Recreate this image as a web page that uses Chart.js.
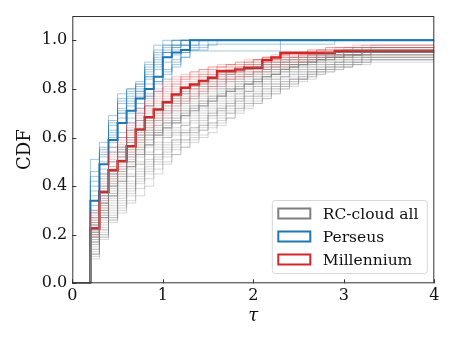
<!DOCTYPE html>
<html><head><meta charset="utf-8">
<script src="https://cdn.jsdelivr.net/npm/chart.js@4"></script>
<style>html,body{margin:0;padding:0;background:#fff}canvas{display:block}</style>
</head><body>
<canvas id="c" width="458" height="343"></canvas>
<script>
// ---- data ----
const tau = [0.2,0.3,0.4,0.5,0.6,0.7,0.8,0.9,1.0,1.1,1.2,1.3,1.4,1.5,1.6,1.7,1.8,1.9,2.0,2.1,2.2,2.3,2.4,2.5,2.6,2.7,2.8,2.9,3.0,3.1,3.2,3.3];
const xTicks = [0,1,2,3,4];
const yTicks = [0,0.2,0.4,0.6,0.8,1.0];
const legendLabels = ['RC-cloud all','Perseus','Millennium'];

const rcCloudMain = [0.17,0.27,0.36,0.42,0.48,0.53,0.57,0.61,0.64,0.66,0.69,0.71,0.73,0.75,0.77,0.79,0.80,0.82,0.83,0.85,0.86,0.88,0.89,0.90,0.91,0.92,0.93,0.93,0.94,0.94,0.95,0.95];
const rcCloudRuns = [
 [0.27,0.38,0.48,0.55,0.60,0.64,0.68,0.72,0.75,0.77,0.79,0.81,0.83,0.84,0.86,0.87,0.88,0.89,0.89,0.90,0.91,0.92,0.93,0.93,0.94,0.95,0.95,0.96,0.96,0.97,0.97,0.97],
 [0.26,0.37,0.47,0.54,0.59,0.63,0.67,0.71,0.74,0.76,0.78,0.80,0.82,0.84,0.85,0.86,0.87,0.88,0.89,0.90,0.91,0.92,0.92,0.93,0.94,0.94,0.95,0.95,0.96,0.96,0.97,0.97],
 [0.25,0.36,0.46,0.52,0.58,0.62,0.66,0.70,0.73,0.75,0.78,0.80,0.81,0.83,0.84,0.86,0.87,0.88,0.89,0.90,0.90,0.91,0.92,0.93,0.93,0.94,0.95,0.95,0.96,0.96,0.96,0.96],
 [0.24,0.35,0.44,0.51,0.56,0.61,0.64,0.68,0.71,0.74,0.76,0.78,0.80,0.82,0.83,0.85,0.86,0.87,0.88,0.89,0.90,0.91,0.91,0.92,0.93,0.94,0.94,0.95,0.95,0.96,0.96,0.96],
 [0.23,0.34,0.43,0.50,0.55,0.60,0.63,0.67,0.70,0.73,0.75,0.77,0.79,0.81,0.82,0.84,0.85,0.86,0.87,0.88,0.89,0.90,0.91,0.92,0.92,0.93,0.94,0.94,0.95,0.95,0.95,0.96],
 [0.22,0.33,0.42,0.48,0.54,0.59,0.62,0.66,0.69,0.72,0.74,0.76,0.78,0.80,0.81,0.83,0.84,0.85,0.87,0.88,0.89,0.90,0.90,0.91,0.92,0.93,0.93,0.94,0.95,0.95,0.95,0.96],
 [0.21,0.32,0.41,0.47,0.53,0.58,0.61,0.65,0.68,0.71,0.73,0.75,0.77,0.79,0.80,0.82,0.83,0.85,0.86,0.87,0.88,0.89,0.90,0.91,0.91,0.92,0.93,0.94,0.94,0.95,0.95,0.95],
 [0.21,0.30,0.38,0.44,0.50,0.55,0.59,0.63,0.66,0.68,0.70,0.72,0.74,0.76,0.78,0.80,0.81,0.82,0.84,0.85,0.86,0.87,0.89,0.90,0.90,0.91,0.92,0.93,0.93,0.94,0.95,0.95],
 [0.20,0.31,0.40,0.46,0.52,0.57,0.61,0.64,0.67,0.70,0.72,0.74,0.76,0.78,0.80,0.81,0.83,0.84,0.85,0.87,0.88,0.89,0.90,0.90,0.91,0.92,0.93,0.93,0.94,0.95,0.95,0.95],
 [0.20,0.30,0.39,0.45,0.51,0.56,0.60,0.63,0.66,0.69,0.71,0.73,0.75,0.77,0.79,0.80,0.82,0.83,0.84,0.86,0.87,0.88,0.89,0.90,0.91,0.92,0.92,0.93,0.94,0.94,0.95,0.95],
 [0.19,0.29,0.37,0.43,0.49,0.54,0.58,0.62,0.65,0.67,0.70,0.72,0.74,0.76,0.77,0.79,0.81,0.82,0.84,0.85,0.86,0.87,0.88,0.89,0.90,0.91,0.92,0.93,0.93,0.94,0.94,0.95],
 [0.19,0.28,0.37,0.44,0.50,0.55,0.59,0.62,0.66,0.68,0.71,0.73,0.75,0.77,0.78,0.80,0.82,0.83,0.85,0.86,0.87,0.88,0.89,0.90,0.91,0.92,0.93,0.93,0.94,0.94,0.95,0.95],
 [0.18,0.28,0.36,0.42,0.48,0.53,0.57,0.61,0.64,0.67,0.69,0.71,0.73,0.75,0.77,0.79,0.80,0.82,0.83,0.85,0.86,0.87,0.88,0.89,0.90,0.91,0.92,0.92,0.93,0.94,0.94,0.95],
 [0.18,0.27,0.35,0.41,0.47,0.52,0.56,0.60,0.63,0.66,0.68,0.70,0.72,0.74,0.76,0.78,0.79,0.81,0.82,0.84,0.85,0.86,0.87,0.88,0.89,0.90,0.91,0.92,0.93,0.93,0.94,0.94],
 [0.17,0.26,0.34,0.40,0.45,0.50,0.54,0.58,0.61,0.64,0.66,0.69,0.71,0.73,0.75,0.77,0.78,0.80,0.81,0.83,0.84,0.85,0.87,0.88,0.89,0.90,0.91,0.91,0.92,0.93,0.93,0.94],
 [0.16,0.25,0.32,0.38,0.44,0.49,0.53,0.56,0.60,0.62,0.65,0.67,0.69,0.71,0.73,0.75,0.77,0.79,0.80,0.82,0.83,0.85,0.86,0.87,0.88,0.89,0.90,0.91,0.92,0.92,0.93,0.94],
 [0.16,0.24,0.33,0.39,0.44,0.49,0.53,0.57,0.60,0.63,0.65,0.68,0.70,0.72,0.74,0.76,0.78,0.79,0.81,0.82,0.84,0.85,0.86,0.87,0.88,0.89,0.90,0.91,0.91,0.92,0.93,0.93],
 [0.15,0.23,0.31,0.37,0.42,0.47,0.51,0.55,0.58,0.61,0.63,0.66,0.68,0.70,0.72,0.74,0.76,0.78,0.79,0.81,0.82,0.84,0.85,0.86,0.87,0.88,0.89,0.90,0.91,0.92,0.93,0.93],
 [0.14,0.22,0.30,0.35,0.41,0.46,0.50,0.53,0.57,0.59,0.62,0.64,0.67,0.69,0.71,0.73,0.75,0.77,0.78,0.80,0.81,0.83,0.84,0.86,0.87,0.88,0.89,0.90,0.91,0.91,0.92,0.93],
 [0.14,0.22,0.29,0.36,0.40,0.45,0.49,0.53,0.56,0.59,0.62,0.64,0.66,0.69,0.71,0.73,0.75,0.77,0.78,0.80,0.82,0.83,0.84,0.85,0.87,0.88,0.89,0.90,0.90,0.91,0.92,0.93],
 [0.13,0.21,0.28,0.34,0.39,0.44,0.48,0.52,0.55,0.58,0.61,0.63,0.65,0.68,0.70,0.72,0.74,0.76,0.77,0.79,0.81,0.82,0.84,0.85,0.86,0.87,0.88,0.89,0.90,0.91,0.92,0.92],
 [0.12,0.20,0.27,0.33,0.38,0.43,0.47,0.51,0.54,0.57,0.59,0.62,0.64,0.66,0.69,0.71,0.73,0.75,0.77,0.78,0.80,0.82,0.83,0.84,0.86,0.87,0.88,0.89,0.90,0.91,0.91,0.92],
 [0.12,0.19,0.27,0.32,0.37,0.42,0.46,0.50,0.53,0.56,0.59,0.61,0.63,0.66,0.68,0.70,0.72,0.74,0.76,0.78,0.80,0.81,0.83,0.84,0.85,0.87,0.88,0.89,0.89,0.90,0.91,0.92],
 [0.11,0.19,0.26,0.31,0.36,0.41,0.45,0.49,0.52,0.55,0.58,0.60,0.63,0.65,0.67,0.70,0.72,0.74,0.75,0.77,0.79,0.81,0.82,0.84,0.85,0.86,0.87,0.88,0.89,0.90,0.91,0.92],
 [0.10,0.18,0.25,0.30,0.34,0.39,0.43,0.47,0.50,0.53,0.56,0.59,0.61,0.64,0.66,0.68,0.71,0.73,0.74,0.76,0.78,0.80,0.81,0.83,0.84,0.86,0.87,0.88,0.89,0.90,0.90,0.91],
 [0.12,0.20,0.26,0.29,0.33,0.36,0.40,0.45,0.49,0.53,0.56,0.58,0.60,0.62,0.65,0.68,0.70,0.72,0.74,0.76,0.78,0.80,0.82,0.84,0.86,0.88,0.90,0.91,0.92,0.93,0.94,0.95],
 [0.22,0.33,0.45,0.52,0.58,0.61,0.62,0.62,0.62,0.62,0.62,0.62,0.65,0.70,0.72,0.74,0.76,0.79,0.82,0.84,0.86,0.88,0.90,0.91,0.92,0.93,0.94,0.95,0.95,0.95,0.96,0.96]
];

const perseusMain = [0.34,0.49,0.59,0.66,0.71,0.76,0.80,0.85,0.93,0.95,0.96,1.0];
const perseusRuns = [
 [0.46,0.56,0.67,0.76,0.80,0.82,0.89,0.96,0.98,0.98,1.0],
 [0.27,0.40,0.54,0.62,0.68,0.74,0.78,0.83,0.88,0.91,0.95,0.96,0.96,0.984,0.984,0.984,0.984,0.984,0.984,0.984,0.984,0.984,0.984,0.984,0.984,0.984,0.984,1.0],
 [0.51,0.58,0.69,0.78,0.80,0.83,0.91,0.98,1.0],
 [0.22,0.33,0.45,0.56,0.63,0.70,0.76,0.82,0.86,0.90,0.93,0.956,0.956,0.956,0.956,0.956,0.956,0.956,0.956,0.956,0.956,1.0],
 [0.30,0.45,0.58,0.70,0.74,0.78,0.85,0.90,0.95,0.97,0.98,1.0],
 [0.38,0.52,0.63,0.72,0.77,0.80,0.87,0.93,0.96,1.0],
 [0.19,0.29,0.40,0.54,0.60,0.67,0.73,0.79,0.84,0.89,0.93,0.96,0.97,1.0],
 [0.42,0.54,0.65,0.74,0.78,0.82,0.90,0.95,0.97,0.98,0.98,0.98,0.98,0.98,1.0],
 [0.24,0.36,0.50,0.60,0.66,0.72,0.77,0.83,0.87,0.92,0.95,0.97,1.0],
 [0.32,0.47,0.60,0.68,0.73,0.77,0.84,0.89,0.93,0.96,0.98,1.0],
 [0.36,0.50,0.61,0.70,0.75,0.79,0.86,0.91,0.95,0.98,1.0],
 [0.44,0.55,0.66,0.75,0.79,0.81,0.88,0.94,0.98,1.0],
 [0.29,0.43,0.56,0.66,0.70,0.76,0.82,0.88,0.91,0.94,0.96,0.98,1.0],
 [0.40,0.53,0.62,0.71,0.76,0.79,0.85,0.92,0.95,0.97,1.0]
];

const millenniumMain = [0.227,0.376,0.465,0.502,0.564,0.633,0.683,0.715,0.745,0.777,0.805,0.818,0.832,0.846,0.873,0.873,0.880,0.887,0.887,0.919,0.929,0.949,0.949,0.949,0.949,0.949,0.949,0.955,0.955,0.955,0.955,0.955];
const millenniumRuns = [
 [0.30,0.45,0.56,0.60,0.66,0.72,0.77,0.80,0.83,0.85,0.86,0.87,0.88,0.89,0.90,0.90,0.91,0.92,0.92,0.93,0.94,0.94,0.95,0.95,0.96,0.96,0.97,0.97,0.97,0.98,0.98,0.98],
 [0.29,0.44,0.54,0.59,0.65,0.71,0.75,0.79,0.82,0.84,0.85,0.87,0.88,0.89,0.89,0.90,0.91,0.91,0.92,0.93,0.93,0.94,0.95,0.95,0.95,0.96,0.96,0.97,0.97,0.97,0.97,0.98],
 [0.28,0.42,0.53,0.58,0.64,0.70,0.74,0.78,0.81,0.83,0.85,0.86,0.87,0.88,0.89,0.90,0.90,0.91,0.92,0.92,0.93,0.94,0.94,0.95,0.95,0.96,0.96,0.96,0.97,0.97,0.97,0.97],
 [0.27,0.41,0.51,0.56,0.62,0.68,0.73,0.76,0.79,0.82,0.84,0.85,0.86,0.87,0.88,0.89,0.89,0.90,0.91,0.92,0.93,0.93,0.94,0.94,0.95,0.95,0.96,0.96,0.96,0.97,0.97,0.97],
 [0.26,0.40,0.50,0.55,0.61,0.67,0.72,0.75,0.78,0.81,0.83,0.84,0.85,0.86,0.87,0.88,0.89,0.90,0.91,0.91,0.92,0.93,0.93,0.94,0.94,0.95,0.95,0.96,0.96,0.96,0.97,0.97],
 [0.25,0.39,0.52,0.57,0.63,0.69,0.73,0.77,0.80,0.82,0.84,0.85,0.86,0.88,0.89,0.89,0.90,0.91,0.92,0.93,0.93,0.94,0.95,0.95,0.96,0.96,0.97,0.97,0.97,0.97,0.98,0.98],
 [0.25,0.37,0.47,0.54,0.60,0.66,0.71,0.74,0.77,0.80,0.82,0.83,0.85,0.86,0.87,0.88,0.89,0.90,0.90,0.91,0.92,0.93,0.93,0.94,0.94,0.95,0.95,0.95,0.96,0.96,0.96,0.97],
 [0.24,0.38,0.48,0.53,0.59,0.65,0.70,0.73,0.76,0.79,0.81,0.82,0.84,0.85,0.86,0.87,0.88,0.89,0.90,0.91,0.91,0.92,0.93,0.93,0.94,0.94,0.95,0.95,0.96,0.96,0.96,0.96],
 [0.23,0.36,0.46,0.52,0.58,0.63,0.68,0.72,0.75,0.78,0.80,0.82,0.83,0.85,0.86,0.87,0.88,0.89,0.90,0.91,0.92,0.92,0.93,0.94,0.94,0.95,0.95,0.96,0.96,0.96,0.96,0.97],
 [0.22,0.35,0.45,0.50,0.56,0.62,0.67,0.71,0.74,0.77,0.79,0.81,0.82,0.84,0.85,0.86,0.87,0.88,0.89,0.90,0.91,0.91,0.92,0.93,0.93,0.94,0.94,0.95,0.95,0.95,0.96,0.96],
 [0.21,0.34,0.44,0.49,0.55,0.61,0.66,0.70,0.73,0.76,0.78,0.80,0.82,0.83,0.84,0.86,0.87,0.88,0.89,0.89,0.90,0.91,0.92,0.92,0.93,0.94,0.94,0.94,0.95,0.95,0.95,0.96],
 [0.21,0.33,0.43,0.48,0.54,0.60,0.65,0.69,0.72,0.75,0.77,0.79,0.81,0.82,0.84,0.85,0.86,0.87,0.88,0.89,0.90,0.91,0.91,0.92,0.93,0.93,0.94,0.94,0.95,0.95,0.95,0.95],
 [0.20,0.32,0.42,0.47,0.53,0.59,0.64,0.68,0.71,0.74,0.76,0.78,0.80,0.81,0.83,0.84,0.85,0.86,0.87,0.88,0.89,0.90,0.90,0.91,0.92,0.92,0.93,0.93,0.94,0.94,0.94,0.95],
 [0.20,0.31,0.41,0.46,0.52,0.58,0.63,0.67,0.70,0.73,0.75,0.77,0.79,0.81,0.82,0.84,0.85,0.86,0.87,0.88,0.89,0.90,0.91,0.91,0.92,0.93,0.93,0.94,0.94,0.94,0.95,0.95],
 [0.19,0.30,0.40,0.45,0.50,0.56,0.61,0.65,0.68,0.71,0.74,0.76,0.78,0.80,0.81,0.83,0.84,0.85,0.86,0.87,0.88,0.89,0.90,0.91,0.91,0.92,0.92,0.93,0.93,0.94,0.94,0.94]
];

// ---- styles ----
const GRAY = '127,127,127', BLUE = '31,119,180', RED = '214,39,40';
const SERIF = "'DejaVu Serif', serif";
const X_MIN = 0, X_MAX = 4, Y_MIN = 0, Y_MAX = 1.1;

function stepData(vals){
  const pts = [{x:X_MIN, y:0}];
  vals.forEach((v,i)=>pts.push({x:tau[i], y:v}));
  pts.push({x:X_MAX, y:vals[vals.length-1]});
  return pts;
}
function ds(vals, rgb, alpha, width){
  return {data: stepData(vals), borderColor:`rgba(${rgb},${alpha})`, borderWidth: width,
    stepped: 'before', pointRadius: 0, fill: false, tension: 0};
}
const datasets = [];
rcCloudRuns.forEach(r=>datasets.push(ds(r, GRAY, 0.3, 1)));
datasets.push(ds(rcCloudMain, GRAY, 0.65, 1.2));
millenniumRuns.forEach(r=>datasets.push(ds(r, RED, 0.25, 1)));
perseusRuns.forEach(r=>datasets.push(ds(r, BLUE, 0.4, 1)));
datasets.push(ds(perseusMain, BLUE, 1, 2));
datasets.push(ds(millenniumMain, RED, 1, 2.5));

const frameTicks = {
  id:'frameTicks',
  afterDatasetsDraw(chart){
    const {ctx, chartArea:a, scales:{x, y}} = chart;
    ctx.save();
    ctx.strokeStyle = '#333'; ctx.lineWidth = 1;
    ctx.strokeRect(a.left+0.5, a.top+0.5, a.right-a.left-1, a.bottom-a.top-1);
    ctx.beginPath();
    xTicks.forEach(v=>{const p=Math.round(x.getPixelForValue(v))+0.5; ctx.moveTo(p,a.bottom); ctx.lineTo(p,a.bottom-4);});
    yTicks.forEach(v=>{const p=Math.round(y.getPixelForValue(v))+0.5; ctx.moveTo(a.left,p); ctx.lineTo(a.left+4,p);});
    ctx.stroke();
    ctx.restore();
  },
  afterDraw(chart){
    const {ctx, chartArea:a} = chart;
    const colors = [GRAY, BLUE, RED];
    const bx = a.left + 199.5, by = a.top + 184, bw = 155, bh = 73;
    ctx.save();
    ctx.beginPath();
    ctx.roundRect(bx+0.5, by+0.5, bw, bh, 3);
    ctx.fillStyle = 'rgba(255,255,255,0.85)'; ctx.fill();
    ctx.strokeStyle = '#d6d6d6'; ctx.lineWidth = 1; ctx.stroke();
    ctx.font = `15.5px ${SERIF}`; ctx.textBaseline = 'middle'; ctx.fillStyle = '#111';
    legendLabels.forEach((t,i)=>{
      const cy = by + 13.5 + i*23;
      ctx.strokeStyle = `rgb(${colors[i]})`; ctx.lineWidth = 2;
      ctx.strokeRect(bx+6.5, cy-5, 32, 10);
      ctx.fillText(t, bx+51, cy+1);
    });
    ctx.restore();
  }
};

new Chart(document.getElementById('c'), {
  type:'line',
  data:{datasets},
  options:{
    responsive:false, animation:false, devicePixelRatio:1,
    layout:{padding:{left:0, top:16, right:23.7, bottom:0}},
    plugins:{legend:{display:false}, tooltip:{enabled:false}},
    scales:{
      x:{type:'linear', min:X_MIN, max:X_MAX,
        afterBuildTicks(s){ s.ticks = xTicks.map(v=>({value:v})); },
        afterFit(s){ s.height = 59.7; },
        grid:{display:false, drawTicks:false},
        border:{display:false},
        ticks:{padding:3, color:'#111', font:{family:SERIF, size:16}, maxRotation:0, autoSkip:false, callback:v=>String(v)},
        title:{display:true, text:'τ', color:'#111', font:{family:SERIF, size:18, style:'italic', lineHeight:1.2}, padding:{top:0,bottom:16}}
      },
      y:{type:'linear', min:Y_MIN, max:Y_MAX,
        afterBuildTicks(s){ s.ticks = yTicks.map(v=>({value:v})); },
        afterFit(s){ s.width = 72.3; },
        grid:{display:false, drawTicks:false},
        border:{display:false},
        ticks:{padding:5, color:'#111', font:{family:SERIF, size:16}, autoSkip:false, callback:v=>Number(v).toFixed(1)},
        title:{display:true, text:'CDF', color:'#111', font:{family:SERIF, size:18, lineHeight:1.2}, padding:{top:15,bottom:0}}
      }
    }
  },
  plugins:[frameTicks]
});
</script>
</body></html>
